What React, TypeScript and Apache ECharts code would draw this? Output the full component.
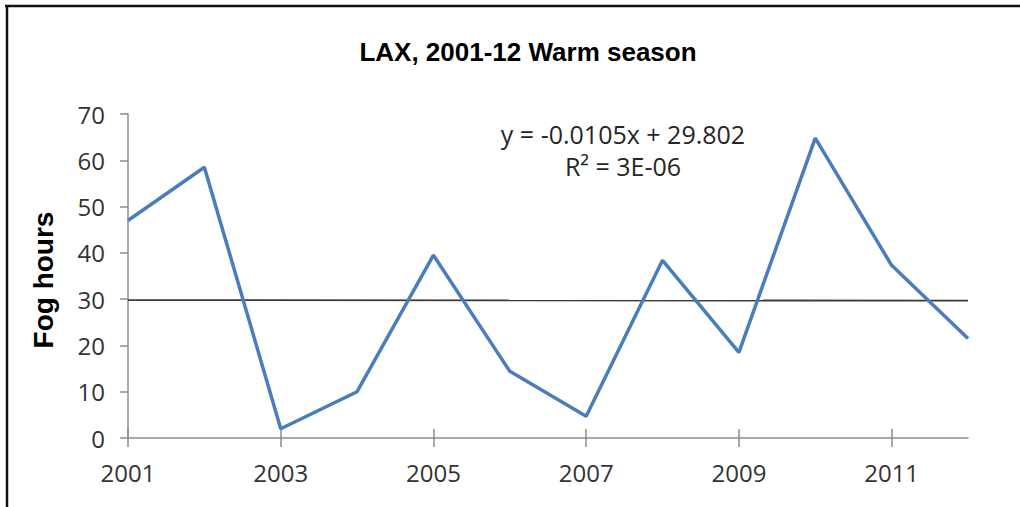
import React, { useEffect, useRef } from "react";
import * as echarts from "echarts";

const years = ["2001", "2002", "2003", "2004", "2005", "2006", "2007", "2008", "2009", "2010", "2011", "2012"];
const fogHours = [47, 58.5, 2, 10, 39.5, 14.4, 4.7, 38.4, 18.5, 64.8, 37.3, 21.5];
const trendPoints: [string, number][] = [["2001", 29.79], ["2012", 29.68]];
const titleText = "LAX, 2001-12 Warm season";
const yAxisTitle = "Fog hours";
const equationLines = ["y = -0.0105x + 29.802", "R² = 3E-06"];

export default function App() {
  const ref = useRef<HTMLDivElement>(null);
  useEffect(() => {
    document.body.style.margin = "0";
    if (!ref.current) return;
    const chart = echarts.init(ref.current, null, { renderer: "svg" });
    const tickFont = "'Open Sans', 'Liberation Sans', sans-serif";
    const axisColor = "#8c8c8c";
    chart.setOption({
      animation: false,
      backgroundColor: "#ffffff",
      grid: { left: 128, right: 52, top: 114, bottom: 69 },
      xAxis: [
        {
          type: "category",
          data: years,
          boundaryGap: false,
          axisLine: { show: true, lineStyle: { color: axisColor, width: 1.5 } },
          axisTick: { show: true, interval: 1, length: 9, lineStyle: { color: axisColor, width: 1.5 } },
          axisLabel: { interval: 1, color: "#333333", fontFamily: tickFont, fontSize: 24, margin: 22 },
          splitLine: { show: false },
        },
        {
          type: "category",
          data: years,
          boundaryGap: false,
          position: "bottom",
          axisLine: { show: false },
          axisTick: { show: true, inside: true, interval: 1, length: 9, lineStyle: { color: axisColor, width: 1.5 } },
          axisLabel: { show: false },
          splitLine: { show: false },
        },
      ],
      yAxis: {
        type: "value",
        min: 0,
        max: 70,
        interval: 10,
        axisLine: { show: true, lineStyle: { color: axisColor, width: 1.5 } },
        axisTick: { show: true, length: 8, lineStyle: { color: axisColor, width: 1.5 } },
        axisLabel: { color: "#333333", fontFamily: tickFont, fontSize: 24, margin: 23 },
        splitLine: { show: false },
      },
      series: [
        {
          type: "line",
          data: fogHours,
          symbol: "none",
          lineStyle: { color: "#4a7ebb", width: 3.5 },
          z: 3,
        },
        {
          type: "line",
          data: trendPoints,
          symbol: "none",
          lineStyle: { color: "#3a3a3a", width: 1.8 },
          z: 2,
        },
      ],
      graphic: [
        { type: "line", shape: { x1: 5, y1: 6, x2: 1020, y2: 6 }, style: { stroke: "#111", lineWidth: 2.5 } },
        { type: "line", shape: { x1: 7, y1: 5, x2: 7, y2: 507 }, style: { stroke: "#111", lineWidth: 2.5 } },
        {
          type: "text",
          x: 528,
          y: 52,
          style: {
            text: titleText,
            font: "bold 26px 'Liberation Sans', Arial, sans-serif",
            fill: "#000",
            textAlign: "center",
            textVerticalAlign: "middle",
          },
        },
        {
          type: "text",
          x: 43,
          y: 280,
          rotation: Math.PI / 2,
          style: {
            text: yAxisTitle,
            font: "bold 28px 'Liberation Sans', Arial, sans-serif",
            fill: "#000",
            textAlign: "center",
            textVerticalAlign: "middle",
          },
        },
        {
          type: "text",
          x: 623,
          y: 134,
          style: {
            text: equationLines[0],
            font: "25px 'Open Sans', 'Liberation Sans', sans-serif",
            fill: "#262626",
            textAlign: "center",
            textVerticalAlign: "middle",
          },
        },
        {
          type: "text",
          x: 623,
          y: 166,
          style: {
            text: equationLines[1],
            font: "25px 'Open Sans', 'Liberation Sans', sans-serif",
            fill: "#262626",
            textAlign: "center",
            textVerticalAlign: "middle",
          },
        },
      ],
    });
    return () => chart.dispose();
  }, []);
  return <div ref={ref} style={{ width: 1020, height: 507 }} />;
}
